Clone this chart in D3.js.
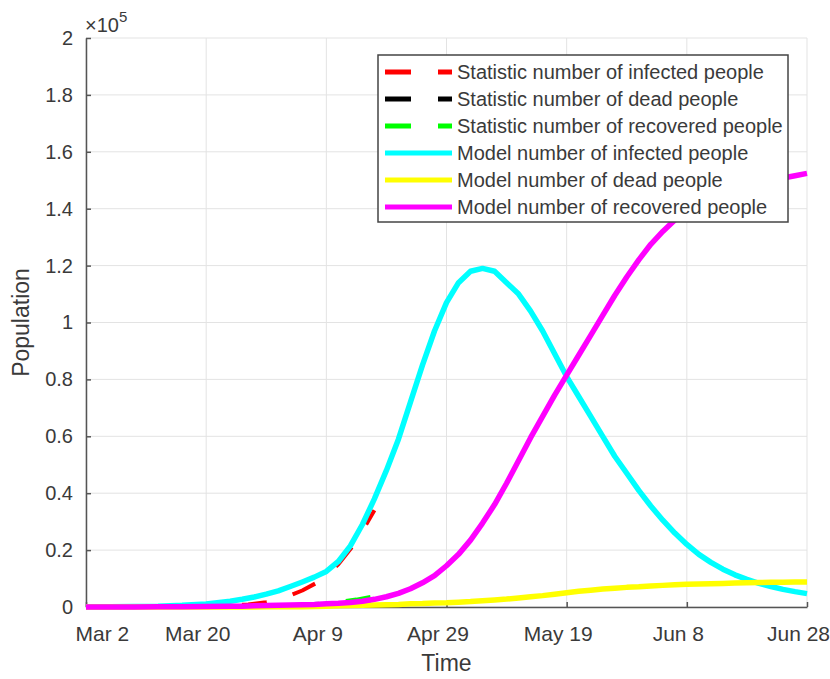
<!DOCTYPE html>
<html>
<head>
<meta charset="utf-8">
<script src="https://cdn.jsdelivr.net/npm/d3@7/dist/d3.min.js"></script>
<style>
body { margin: 0; background: #fff; }
text { font-family: "Liberation Sans", Arial, sans-serif; fill: #3a3a3a; }
</style>
</head>
<body>
<div id="viz"></div>
<script>
// tick labels (x is day index from Mar 2)
var xTickDays = [0, 20, 40, 60, 80, 100, 120];
var xTickLabels = ["Mar 2", "Mar 20", "Apr 9", "Apr 29", "May 19", "Jun 8", "Jun 28"];
var yTicks = [0, 0.2, 0.4, 0.6, 0.8, 1, 1.2, 1.4, 1.6, 1.8, 2];
var yTickLabels = ["0", "0.2", "0.4", "0.6", "0.8", "1", "1.2", "1.4", "1.6", "1.8", "2"];

// model curves, values in units of 1e5
var modelDays = [0, 4, 8, 12, 16, 20, 24, 26, 28, 30, 32, 34, 36, 38, 40, 42, 44, 46, 48, 50,
    52, 54, 56, 58, 60, 62, 64, 66, 68, 70, 72, 74, 76, 78, 80, 82, 84, 86, 88, 90,
    92, 94, 96, 98, 100, 102, 104, 106, 108, 110, 112, 114, 116, 118, 120];
var modelInfected = [0, 0.001, 0.002, 0.003, 0.006, 0.011, 0.02, 0.027, 0.035, 0.045, 0.057, 0.072, 0.088, 0.105, 0.125, 0.16, 0.215, 0.29, 0.38, 0.48,
    0.59, 0.72, 0.85, 0.97, 1.07, 1.14, 1.18, 1.19, 1.18, 1.14, 1.10, 1.04, 0.97, 0.89, 0.81, 0.74, 0.67, 0.60, 0.53, 0.47,
    0.41, 0.355, 0.305, 0.26, 0.22, 0.185, 0.157, 0.133, 0.113, 0.097, 0.083, 0.072, 0.062, 0.054, 0.047];
var modelDead = [0, 0, 0, 0, 0, 0, 0, 0, 0, 0.001, 0.001, 0.001, 0.001, 0.002, 0.003, 0.004, 0.005, 0.006, 0.007, 0.008,
    0.009, 0.011, 0.012, 0.014, 0.015, 0.017, 0.019, 0.022, 0.025, 0.028, 0.032, 0.036, 0.04, 0.045, 0.05, 0.055, 0.059, 0.063, 0.066, 0.069,
    0.071, 0.074, 0.076, 0.078, 0.08, 0.081, 0.082, 0.083, 0.084, 0.085, 0.086, 0.087, 0.087, 0.088, 0.088];
var modelRecovered = [0, 0, 0, 0.001, 0.001, 0.002, 0.003, 0.003, 0.004, 0.005, 0.006, 0.007, 0.008, 0.009, 0.011, 0.013, 0.016, 0.02, 0.027, 0.036,
    0.048, 0.064, 0.085, 0.11, 0.145, 0.185, 0.235, 0.295, 0.36, 0.435, 0.515, 0.595, 0.67, 0.745, 0.815, 0.885, 0.955, 1.025, 1.095, 1.16,
    1.22, 1.275, 1.32, 1.36, 1.39, 1.415, 1.435, 1.452, 1.466, 1.478, 1.489, 1.499, 1.508, 1.516, 1.524];

// statistics (reported data)
var statDays = [0, 3, 6, 9, 12, 15, 18, 21, 24, 27, 30, 33, 36, 39, 42, 45, 48];
var statInfected = [0, 0, 0, 0.0005, 0.001, 0.001, 0.002, 0.003, 0.005, 0.009, 0.017, 0.032, 0.058, 0.092, 0.15, 0.23, 0.34];
var statDead = [0, 0, 0, 0, 0, 0, 0, 0, 0.0001, 0.0002, 0.0004, 0.0008, 0.0015, 0.0025, 0.004, 0.006, 0.009];
var statRecovered = [0, 0, 0, 0, 0, 0, 0, 0.0005, 0.001, 0.002, 0.003, 0.005, 0.008, 0.012, 0.018, 0.026, 0.038];

var series = [
    {name: "Statistic number of infected people", days: statDays, values: statInfected, color: "#ff0000", dashed: true},
    {name: "Statistic number of dead people", days: statDays, values: statDead, color: "#000000", dashed: true},
    {name: "Statistic number of recovered people", days: statDays, values: statRecovered, color: "#00ff00", dashed: true},
    {name: "Model number of infected people", days: modelDays, values: modelInfected, color: "#00ffff", dashed: false},
    {name: "Model number of dead people", days: modelDays, values: modelDead, color: "#ffff00", dashed: false},
    {name: "Model number of recovered people", days: modelDays, values: modelRecovered, color: "#ff00ff", dashed: false}
];

var margin = {top: 38, right: 23, bottom: 72, left: 86},
    width = 830 - margin.left - margin.right,
    height = 679 - margin.top - margin.bottom;

var svg = d3.select("#viz")
    .append("svg")
    .attr("width", width + margin.left + margin.right)
    .attr("height", height + margin.top + margin.bottom)
    .append("g")
    .attr("transform", "translate(" + margin.left + "," + margin.top + ")");

var x = d3.scaleLinear()
    .domain([0, 120])
    .range([0, width]);

var y = d3.scaleLinear()
    .domain([0, 2])
    .range([height, 0]);

// grid
svg.append("g")
    .selectAll("line")
    .data(xTickDays)
    .enter().append("line")
    .attr("x1", function (d) { return x(d); })
    .attr("x2", function (d) { return x(d); })
    .attr("y1", 0)
    .attr("y2", height)
    .attr("stroke", "#e3e3e3");

svg.append("g")
    .selectAll("line")
    .data(yTicks)
    .enter().append("line")
    .attr("x1", 0)
    .attr("x2", width)
    .attr("y1", function (d) { return y(d); })
    .attr("y2", function (d) { return y(d); })
    .attr("stroke", "#e3e3e3");

// axes
var xAxis = svg.append("g")
    .attr("transform", "translate(0," + height + ")")
    .call(d3.axisBottom(x)
        .tickValues(xTickDays)
        .tickFormat(function (d, i) { return xTickLabels[i]; })
        .tickSizeInner(-5)
        .tickSizeOuter(0)
        .tickPadding(19));

var yAxis = svg.append("g")
    .call(d3.axisLeft(y)
        .tickValues(yTicks)
        .tickFormat(function (d, i) { return yTickLabels[i]; })
        .tickSizeInner(-5)
        .tickSizeOuter(0)
        .tickPadding(13));

[xAxis, yAxis].forEach(function (a) {
    a.select(".domain").attr("stroke", "#555").attr("stroke-width", 1.5);
    a.selectAll(".tick line").attr("stroke", "#555").attr("stroke-width", 1.5);
    a.selectAll(".tick text")
        .attr("font-family", "Liberation Sans, Arial, sans-serif")
        .attr("fill", "#3a3a3a");
});
yAxis.selectAll(".tick text").attr("font-size", 20);
// the labels sit a little left of their ticks in the original; first one starts near the axis
xAxis.selectAll(".tick text")
    .attr("font-size", 21)
    .attr("dx", function (d, i) { return i === 0 ? -11 : -9; })
    .attr("text-anchor", function (d, i) { return i === 0 ? "start" : "middle"; });

// exponent label
var expo = svg.append("text")
    .attr("x", -1)
    .attr("y", -6)
    .attr("font-size", 20);
expo.append("tspan").text("\u00d710");
expo.append("tspan").attr("dy", -10).attr("font-size", 15).text("5");

// axis titles
svg.append("text")
    .attr("x", width / 2)
    .attr("y", height + 64)
    .attr("text-anchor", "middle")
    .attr("font-size", 23)
    .text("Time");

svg.append("text")
    .attr("transform", "translate(" + (-57) + "," + (height / 2) + ") rotate(-90)")
    .attr("text-anchor", "middle")
    .attr("font-size", 23)
    .text("Population");

// curves
var line = d3.line()
    .x(function (d) { return x(d[0]); })
    .y(function (d) { return y(d[1]); });

svg.append("g")
    .selectAll("path")
    .data(series)
    .enter().append("path")
    .attr("d", function (s) {
        return line(s.days.map(function (d, i) { return [d, s.values[i]]; }));
    })
    .attr("fill", "none")
    .attr("stroke", function (s) { return s.color; })
    .attr("stroke-width", function (s) { return s.dashed ? 4 : 5.5; })
    .attr("stroke-dasharray", function (s) { return s.dashed ? "25,27" : null; })
    .attr("stroke-linejoin", "round");

// legend
var legend = svg.append("g")
    .attr("transform", "translate(" + (378 - margin.left) + "," + (55 - margin.top) + ")");

legend.append("rect")
    .attr("width", 410)
    .attr("height", 167)
    .attr("fill", "#fff")
    .attr("stroke", "#444")
    .attr("stroke-width", 1.5);

var rows = legend.selectAll(".row")
    .data(series)
    .enter().append("g")
    .attr("transform", function (d, i) { return "translate(0," + (17 + i * 27) + ")"; });

rows.append("line")
    .attr("x1", 7)
    .attr("x2", 74)
    .attr("stroke", function (s) { return s.color; })
    .attr("stroke-width", 5)
    .attr("stroke-dasharray", function (s) { return s.dashed ? "26,27" : null; });

rows.append("text")
    .attr("x", 79)
    .attr("dy", "0.35em")
    .attr("font-size", 20)
    .text(function (s) { return s.name; });
</script>
</body>
</html>
